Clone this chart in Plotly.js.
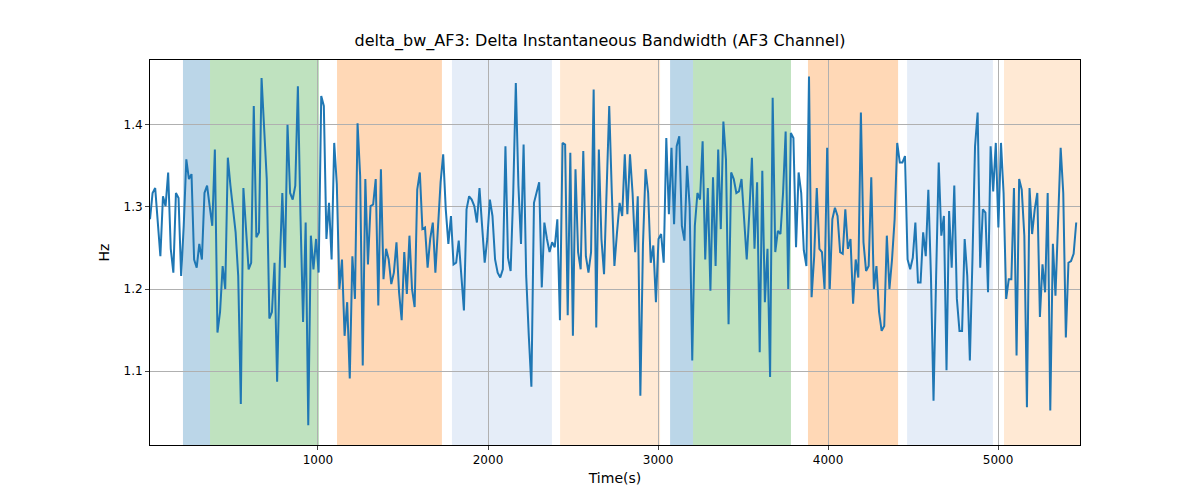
<!DOCTYPE html>
<html>
<head>
<script src="https://cdn.plot.ly/plotly-3.0.1.min.js"></script>
<style>body{margin:0;background:#fff}#chart{width:1200px;height:500px}</style>
</head>
<body>
<div id="chart"></div>
<script>
// sampling of the signal
var t0 = 12, dt = 15.26;
var bw = [
1.285,1.317,1.323,1.277,1.240,1.313,1.301,1.342,1.249,1.220,1.317,1.311,1.216,1.277,1.358,1.334,1.340,1.236,1.226,1.255,
1.236,1.317,1.326,1.301,1.277,1.370,1.147,1.172,1.228,1.200,1.360,1.326,1.293,1.269,1.216,1.060,1.323,1.269,1.224,1.232,
1.423,1.263,1.269,1.457,1.402,1.334,1.164,1.172,1.232,1.087,1.228,1.317,1.226,1.400,1.317,1.309,1.326,1.447,1.289,1.160,
1.281,1.034,1.265,1.224,1.261,1.220,1.435,1.423,1.261,1.305,1.236,1.378,1.328,1.200,1.236,1.143,1.184,1.091,1.240,1.188,
1.402,1.338,1.107,1.334,1.230,1.301,1.303,1.334,1.180,1.346,1.212,
1.249,1.236,1.206,1.220,1.257,1.196,1.162,1.245,1.194,1.265,1.200,1.178,1.321,1.342,1.273,1.275,1.226,1.261,1.281,
1.220,1.273,1.330,1.364,1.297,1.255,1.289,1.230,1.232,1.259,1.220,1.174,1.297,1.313,1.309,1.301,1.281,1.323,1.277,1.232,
1.261,1.309,1.289,1.236,1.220,1.214,1.224,1.374,1.238,1.222,1.317,1.451,1.326,1.255,1.376,1.216,1.143,1.081,1.305,1.317,
1.330,1.202,1.281,1.261,1.245,1.257,1.251,1.285,1.162,1.378,1.376,1.168,1.366,1.143,1.346,1.245,1.224,1.368,1.240,1.220,
1.245,1.443,1.153,1.370,1.261,1.218,1.317,1.423,1.317,1.228,1.269,1.305,1.289,1.364,
1.291,1.364,1.317,1.245,1.313,1.070,1.253,1.346,1.317,1.232,1.253,1.184,1.261,1.267,1.232,1.384,1.291,1.372,1.279,1.374,
1.386,1.277,1.259,1.350,1.301,1.113,1.277,1.317,1.309,1.380,1.236,1.323,1.198,1.336,1.228,1.370,1.273,1.404,1.358,1.157,
1.342,1.334,1.317,1.319,1.334,1.285,1.236,1.293,1.360,1.249,1.330,1.123,1.344,1.184,1.249,1.093,1.433,1.245,1.271,1.267,
1.317,1.392,1.200,1.390,1.384,1.251,1.342,1.317,1.247,1.228,1.459,1.190,1.240,1.323,1.249,1.245,1.200,1.372,1.200,1.285,
1.299,1.289,1.245,1.243,1.297,1.249,1.261,
1.182,1.236,1.214,1.415,1.257,1.222,1.228,1.336,1.200,1.228,1.172,1.149,1.155,1.265,1.200,1.236,1.285,1.378,1.354,1.354,
1.362,1.236,1.224,1.238,1.281,1.208,1.208,1.269,1.240,1.321,1.216,1.064,1.216,1.354,1.265,1.289,1.101,1.295,1.226,1.326,
1.188,1.149,1.149,1.261,1.216,1.113,1.236,1.374,1.415,1.226,1.297,1.293,1.196,1.374,1.319,1.378,1.275,1.378,1.317,1.188,
1.212,1.212,1.323,1.119,1.334,1.321,1.265,1.056,1.323,1.267,1.297,1.317,1.166,1.230,1.196,1.317,1.052,1.255,1.192,1.277,
1.372,1.317,1.141,1.232,1.234,1.243,1.281
];
var bandStart = [206, 365, 1112, 1788, 2424, 3071, 3206, 3882, 4465, 5035];
var bandEnd   = [365, 1006, 1729, 2376, 3012, 3206, 3782, 4412, 4970, 5482];
var bandColor = ['#1f77b4','#2ca02c','#ff7f0e','#aec7e8','#ffbb78','#1f77b4','#2ca02c','#ff7f0e','#aec7e8','#ffbb78'];
var bandAlpha = [0.3, 0.3, 0.3, 0.32, 0.32, 0.3, 0.3, 0.3, 0.32, 0.32];

var x = bw.map(function (d, i) { return t0 + i * dt; });

var shapes = bandStart.map(function (s, i) {
  return {type: 'rect', xref: 'x', yref: 'paper', x0: s, x1: bandEnd[i], y0: 0, y1: 1,
          fillcolor: bandColor[i], opacity: bandAlpha[i], line: {width: 0}, layer: 'below'};
});

var trace1 = {x: x, y: bw, mode: 'lines', type: 'scatter', line: {color: '#1f77b4', width: 2}};

var layout = {
  width: 1200, height: 500,
  margin: {l: 150, r: 120, t: 60, b: 55},
  paper_bgcolor: '#fff', plot_bgcolor: 'rgba(0,0,0,0)',
  font: {family: 'DejaVu Sans', size: 12, color: '#000'},
  title: {text: 'delta_bw_AF3: Delta Instantaneous Bandwidth (AF3 Channel)', x: 0.5, y: 0.93, xanchor: 'center', font: {size: 16}},
  showlegend: false,
  shapes: shapes,
  xaxis: {range: [12, 5482], tickvals: [1000, 2000, 3000, 4000, 5000], showgrid: true, gridcolor: '#b0b0b0',
          zeroline: false, ticks: 'outside', ticklen: 4, showline: true, mirror: true, linecolor: '#000',
          title: {text: 'Time(s)', standoff: 6}},
  yaxis: {range: [1.010, 1.479], tickvals: [1.1, 1.2, 1.3, 1.4], tickformat: '.1f', showgrid: true, gridcolor: '#b0b0b0',
          zeroline: false, ticks: 'outside', ticklen: 4, showline: true, mirror: true, linecolor: '#000',
          title: {text: 'Hz', standoff: 10}}
};

Plotly.newPlot('chart', [trace1], layout, {staticPlot: true});
</script>
</body>
</html>
